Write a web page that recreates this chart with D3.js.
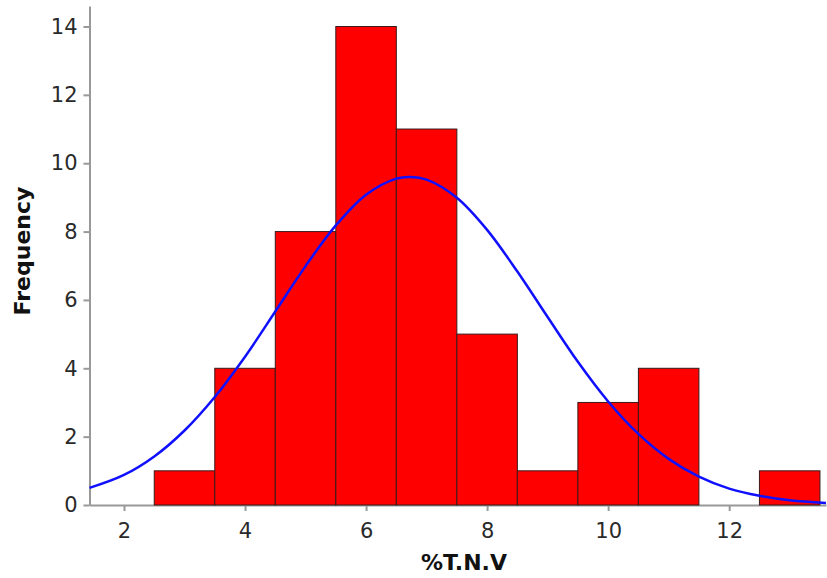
<!DOCTYPE html>
<html>
<head>
<meta charset="utf-8">
<script src="https://cdn.jsdelivr.net/npm/d3@7"></script>
<style>
  body { margin: 0; background: #fff; }
  .axis text { font-family: "DejaVu Sans", sans-serif; font-size: 21px; fill: #2a2a2a; }
  .axis path, .axis line { stroke: #999; stroke-width: 2px; }
  .title { font-family: "DejaVu Sans", sans-serif; font-weight: bold; font-size: 22px; fill: #111; }
</style>
</head>
<body>
<div class="chart"></div>
<script>
// histogram bins (bin centre, width 1)
var binCenters = [3, 4, 5, 6, 7, 8, 9, 10, 11, 12, 13];
var counts = [1, 4, 8, 14, 11, 5, 1, 3, 4, 0, 1];

// fitted normal curve
var curveX = [1.43, 2, 2.5, 3, 3.5, 4, 4.5, 5, 5.5, 6, 6.5, 6.72, 7, 7.5, 8, 8.5, 9, 9.5, 10, 10.5, 11, 11.5, 12, 12.5, 13, 13.6];
var curveY = [0.5, 0.88, 1.42, 2.18, 3.16, 4.34, 5.66, 6.99, 8.18, 9.08, 9.55, 9.6, 9.52, 8.99, 8.05, 6.83, 5.5, 4.19, 3.03, 2.08, 1.35, 0.83, 0.48, 0.27, 0.14, 0.06];

var xTicks = [2, 4, 6, 8, 10, 12];
var yTicks = [0, 2, 4, 6, 8, 10, 12, 14];

var width = 827, height = 578;
var margin = { top: 6, right: 1, bottom: 73, left: 89.5 };

var svg = d3.select(".chart").append("svg")
    .attr("width", width)
    .attr("height", height);

var x = d3.scaleLinear()
    .domain([1.43, 13.6])
    .range([margin.left, width - margin.right]);

var y = d3.scaleLinear()
    .domain([0, 14.6])
    .range([height - margin.bottom, margin.top]);

// axes
svg.append("g")
    .attr("class", "axis")
    .attr("transform", "translate(0," + y(0) + ")")
    .call(d3.axisBottom(x).tickValues(xTicks).tickSizeInner(6).tickSizeOuter(0).tickPadding(12));

svg.append("g")
    .attr("class", "axis")
    .attr("transform", "translate(" + x.range()[0] + ",0)")
    .call(d3.axisLeft(y).tickValues(yTicks).tickSizeInner(6).tickSizeOuter(0).tickPadding(6));

// bars
var data = binCenters.map(function (c, i) { return { c: c, n: counts[i] }; })
    .filter(function (d) { return d.n > 0; });

svg.selectAll(".bar")
    .data(data)
    .enter().append("rect")
    .attr("class", "bar")
    .attr("x", function (d) { return x(d.c - 0.5); })
    .attr("width", function (d) { return x(d.c + 0.5) - x(d.c - 0.5); })
    .attr("y", function (d) { return y(d.n); })
    .attr("height", function (d) { return y(0) - y(d.n); })
    .attr("fill", "#ff0000")
    .attr("stroke", "#3a1a1a")
    .attr("stroke-width", 1);

// normal curve
var line = d3.line()
    .x(function (d, i) { return x(curveX[i]); })
    .y(function (d) { return y(d); })
    .curve(d3.curveCatmullRom);

svg.append("path")
    .datum(curveY)
    .attr("d", line)
    .attr("fill", "none")
    .attr("stroke", "#1010ff")
    .attr("stroke-width", 2.5);

// axis titles
svg.append("text")
    .attr("class", "title")
    .attr("x", 464)
    .attr("y", 570)
    .attr("text-anchor", "middle")
    .text("%T.N.V");

svg.append("text")
    .attr("class", "title")
    .attr("transform", "translate(30,251) rotate(-90)")
    .attr("text-anchor", "middle")
    .text("Frequency");
</script>
</body>
</html>
